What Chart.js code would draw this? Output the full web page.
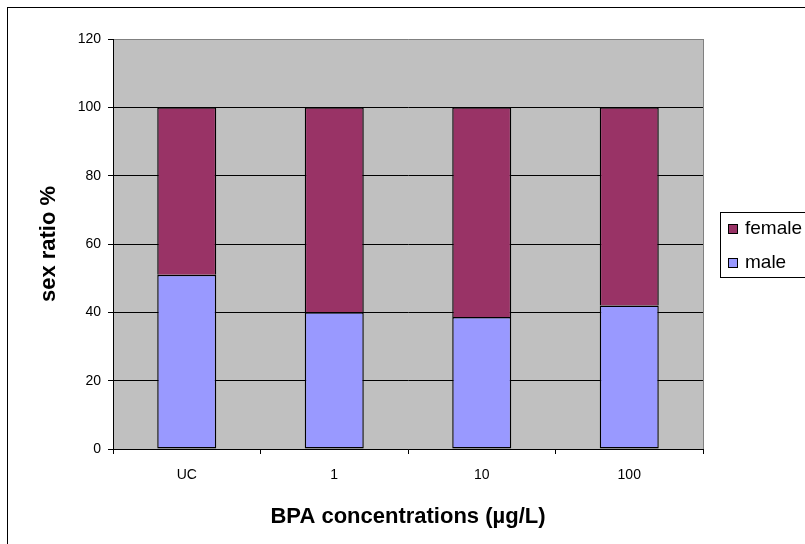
<!DOCTYPE html>
<html>
<head>
<meta charset="utf-8">
<script src="https://cdn.jsdelivr.net/npm/chart.js@4.4.1/dist/chart.umd.min.js"></script>
<style>
    html, body { margin: 0; padding: 0; background: #fff; }
    #wrap { width: 805px; height: 544px; position: relative; }
</style>
</head>
<body>
<div id="wrap"><canvas id="sex-ratio-chart" width="805" height="544"></canvas></div>
<script>
// sex ratio per BPA concentration group
const concentrations = ['UC', '1', '10', '100'];
const maleValues = [51, 40, 38.6, 42];
const femaleValues = [49, 60, 61.4, 58];
const yTicks = [0, 20, 40, 60, 80, 100, 120];

const FONT = "'Liberation Sans', Arial, sans-serif";

// grey plot background, grey right edge, outer frame
const plotFrame = {
    id: 'plotFrame',
    beforeDraw(chart) {
        const { ctx, chartArea: a } = chart;
        ctx.save();
        ctx.fillStyle = '#C0C0C0';
        ctx.fillRect(a.left, a.top, a.right - a.left, a.bottom - a.top);
        ctx.strokeStyle = '#000';
        ctx.lineWidth = 1;
        ctx.strokeRect(7.5, 7.5, 900, 600);
        ctx.restore();
    },
    afterDraw(chart) {
        const { ctx, chartArea: a } = chart;
        ctx.save();
        ctx.strokeStyle = '#808080';
        ctx.lineWidth = 1;
        ctx.beginPath();
        ctx.moveTo(Math.round(a.right) + 0.5, a.top);
        ctx.lineTo(Math.round(a.right) + 0.5, a.bottom);
        ctx.stroke();
        ctx.restore();
    }
};

// boxed legend to the right of the plot, top series first
const boxLegend = {
    id: 'boxLegend',
    afterDraw(chart) {
        const { ctx, chartArea: a } = chart;
        const sets = chart.data.datasets.slice().reverse();
        const left = Math.round(a.right) + 17;
        const rowH = 34;
        const h = 65;
        const top = Math.round((a.top + a.bottom) / 2 - h / 2);
        ctx.save();
        ctx.fillStyle = '#fff';
        ctx.fillRect(left, top, 200, h);
        ctx.strokeStyle = '#000';
        ctx.lineWidth = 1;
        ctx.strokeRect(left + 0.5, top + 0.5, 200, h);
        ctx.font = '19px ' + FONT;
        ctx.textBaseline = 'middle';
        sets.forEach((ds, i) => {
            const cy = top + 17 + i * rowH;
            ctx.fillStyle = ds.backgroundColor;
            ctx.fillRect(left + 8.5, cy - 4.5, 9, 9);
            ctx.strokeRect(left + 8.5, cy - 4.5, 9, 9);
            ctx.fillStyle = '#000';
            ctx.fillText(ds.label, left + 25, cy);
        });
        ctx.restore();
    }
};

new Chart(document.getElementById('sex-ratio-chart'), {
    type: 'bar',
    data: {
        labels: concentrations,
        datasets: [
            {
                label: 'male',
                data: maleValues,
                backgroundColor: '#9999FF',
                borderColor: '#000',
                borderWidth: 1.4,
                borderSkipped: false
            },
            {
                label: 'female',
                data: femaleValues,
                backgroundColor: '#993366',
                borderColor: '#000',
                borderWidth: 1.4,
                borderSkipped: 'start'
            }
        ]
    },
    options: {
        responsive: false,
        animation: false,
        layout: { padding: { left: 32, top: 39, right: 102, bottom: 10 } },
        datasets: { bar: { barPercentage: 0.4, categoryPercentage: 1 } },
        plugins: {
            legend: { display: false },
            tooltip: { enabled: false }
        },
        scales: {
            x: {
                stacked: true,
                afterFit: (s) => { s.height = 85; },
                grid: { drawOnChartArea: false, tickLength: 5, tickColor: '#000', offset: true },
                border: { color: '#000', width: 1 },
                ticks: { color: '#000', padding: 13, font: { family: FONT, size: 14 } },
                title: {
                    display: true,
                    text: 'BPA concentrations (µg/L)',
                    color: '#000',
                    font: { family: FONT, size: 22, weight: 'bold' }
                }
            },
            y: {
                stacked: true,
                min: 0,
                max: 120,
                afterFit: (s) => { s.width = 81; },
                afterBuildTicks: (s) => { s.ticks = yTicks.map(v => ({ value: v })); },
                grid: {
                    color: (c) => c.tick && c.tick.value === 120 ? '#808080' : '#000',
                    tickColor: '#000',
                    tickLength: 5,
                    lineWidth: 1
                },
                border: { color: '#000', width: 1 },
                ticks: { color: '#000', padding: 7, font: { family: FONT, size: 14 } },
                title: {
                    display: true,
                    text: 'sex ratio %',
                    color: '#000',
                    font: { family: FONT, size: 22, weight: 'bold' }
                }
            }
        }
    },
    plugins: [plotFrame, boxLegend]
});
</script>
</body>
</html>
